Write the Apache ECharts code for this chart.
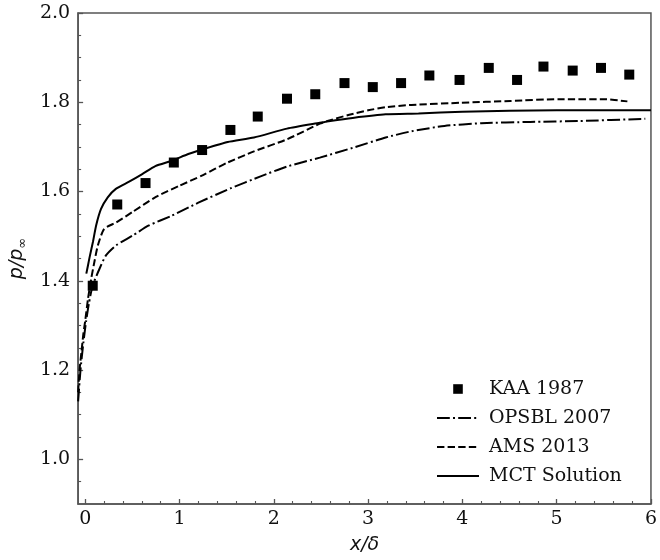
<!DOCTYPE html>
<html>
<head>
<meta charset="utf-8">
<script src="https://cdn.jsdelivr.net/npm/echarts@6/dist/echarts.min.js"></script>
<style>
html,body{margin:0;padding:0;background:#fff;}
#chart{width:660px;height:560px;}
</style>
</head>
<body>
<div id="chart"></div>
<script>
// ---- data ----
var kaaX = [0.08, 0.34, 0.64, 0.94, 1.24, 1.54, 1.83, 2.14, 2.44, 2.75, 3.05, 3.35, 3.65, 3.97, 4.28, 4.58, 4.86, 5.17, 5.47, 5.77];
var kaaY = [1.389, 1.571, 1.619, 1.665, 1.693, 1.738, 1.768, 1.808, 1.818, 1.843, 1.834, 1.843, 1.860, 1.850, 1.877, 1.850, 1.880, 1.871, 1.877, 1.862];

var opsX = [-0.075, -0.05, -0.02, 0.01, 0.04, 0.08, 0.152, 0.22, 0.325, 0.5, 0.675, 0.919, 1.2, 1.539, 1.86, 2.14, 2.488, 2.837, 3.186, 3.46, 3.81, 4.2, 4.72, 5.24, 5.94];
var opsY = [1.13, 1.20, 1.26, 1.31, 1.35, 1.39, 1.427, 1.457, 1.479, 1.501, 1.524, 1.546, 1.575, 1.607, 1.634, 1.656, 1.676, 1.698, 1.721, 1.735, 1.747, 1.753, 1.756, 1.758, 1.763];

var amsX = [-0.075, -0.06, -0.04, -0.02, 0.0, 0.03, 0.064, 0.1, 0.134, 0.2, 0.33, 0.5, 0.75, 1.0, 1.25, 1.5, 1.79, 2.14, 2.488, 2.6, 2.8, 3.0, 3.186, 3.46, 3.99, 4.51, 5.03, 5.49, 5.75];
var amsY = [1.15, 1.20, 1.24, 1.28, 1.31, 1.36, 1.405, 1.445, 1.479, 1.516, 1.531, 1.554, 1.588, 1.613, 1.637, 1.664, 1.690, 1.717, 1.752, 1.760, 1.772, 1.782, 1.789, 1.794, 1.799, 1.803, 1.807, 1.807, 1.802];

var mctX = [0.012, 0.03, 0.047, 0.082, 0.116, 0.168, 0.239, 0.325, 0.466, 0.605, 0.744, 0.919, 1.093, 1.267, 1.512, 1.79, 2.14, 2.488, 2.6, 2.837, 3.186, 3.535, 4.0, 4.5, 5.0, 5.5, 6.0];
var mctY = [1.416, 1.435, 1.453, 1.487, 1.524, 1.561, 1.587, 1.606, 1.622, 1.639, 1.657, 1.669, 1.684, 1.696, 1.711, 1.721, 1.741, 1.754, 1.758, 1.765, 1.773, 1.775, 1.779, 1.781, 1.782, 1.782, 1.782];

var xTicks = [0, 1, 2, 3, 4, 5, 6];
var xMinorTicks = [0.2, 0.4, 0.6, 0.8, 1.2, 1.4, 1.6, 1.8, 2.2, 2.4, 2.6, 2.8, 3.2, 3.4, 3.6, 3.8, 4.2, 4.4, 4.6, 4.8, 5.2, 5.4, 5.6, 5.8];
var yTicks = [1.0, 1.2, 1.4, 1.6, 1.8, 2.0];
var yMinorTicks = [0.95, 1.05, 1.1, 1.15, 1.25, 1.3, 1.35, 1.45, 1.5, 1.55, 1.65, 1.7, 1.75, 1.85, 1.9, 1.95];

var seriesNames = ['KAA 1987', 'OPSBL 2007', 'AMS 2013', 'MCT Solution'];

function zip(a, b) { return a.map(function (v, i) { return [v, b[i]]; }); }

var AX = '#555';
var serif = 'DejaVu Serif';

var chart = echarts.init(document.getElementById('chart'), null, {renderer: 'canvas'});
chart.setOption({
  animation: false,
  backgroundColor: '#fff',
  grid: {left: 75, top: 13, right: 5.5, bottom: 54, show: true, borderColor: AX, borderWidth: 1.5, backgroundColor: 'transparent'},
  legend: {
    orient: 'vertical', left: 431, top: 374,
    itemWidth: 42, itemHeight: 12, itemGap: 9,
    data: [
      {name: seriesNames[0]},
      {name: seriesNames[1], itemStyle: {opacity: 0}},
      {name: seriesNames[2], itemStyle: {opacity: 0}},
      {name: seriesNames[3], itemStyle: {opacity: 0}}
    ],
    textStyle: {fontFamily: serif, fontSize: 19, color: '#111', lineHeight: 20, padding: [0, 0, 0, 5]}
  },
  xAxis: [{
    type: 'value', min: -0.075, max: 6,
    axisLine: {show: true, onZero: false, lineStyle: {color: AX, width: 1.5}},
    axisTick: {show: true, inside: true, length: 5, customValues: xTicks, lineStyle: {color: AX, width: 1.3}},
    axisLabel: {customValues: xTicks, fontFamily: serif, fontSize: 19, color: '#111', margin: 6, formatter: function (v) { return String(Math.round(v)); }},
    splitLine: {show: false},
    name: 'x/δ', nameLocation: 'middle', nameGap: 32,
    nameTextStyle: {fontFamily: 'DejaVu Sans', fontStyle: 'italic', fontSize: 19, color: '#111'}
  }, {
    type: 'value', min: -0.075, max: 6, position: 'bottom', offset: 0,
    axisLine: {show: false, onZero: false},
    axisTick: {show: true, inside: true, length: 3, customValues: xMinorTicks, lineStyle: {color: AX, width: 1.1}},
    axisLabel: {show: false, customValues: xMinorTicks}, splitLine: {show: false}
  }],
  yAxis: [{
    type: 'value', min: 0.9, max: 2.0,
    axisLine: {show: true, onZero: false, lineStyle: {color: AX, width: 1.5}},
    axisTick: {show: true, inside: true, length: 5, customValues: yTicks, lineStyle: {color: AX, width: 1.3}},
    axisLabel: {customValues: yTicks, fontFamily: serif, fontSize: 19, color: '#111', margin: 8, formatter: function (v) { return v.toFixed(1); }},
    splitLine: {show: false},
    name: '{a|p/p}{b|∞}', nameLocation: 'middle', nameGap: 47, nameRotate: 90,
    nameTextStyle: {
      rich: {
        a: {fontFamily: 'DejaVu Sans', fontStyle: 'italic', fontSize: 19, color: '#111'},
        b: {fontFamily: 'DejaVu Sans', fontSize: 13, color: '#111', padding: [10, 0, 0, 0]}
      }
    }
  }, {
    type: 'value', min: 0.9, max: 2.0, position: 'left', offset: 0,
    axisLine: {show: false, onZero: false},
    axisTick: {show: true, inside: true, length: 3, customValues: yMinorTicks, lineStyle: {color: AX, width: 1.1}},
    axisLabel: {show: false, customValues: yMinorTicks}, splitLine: {show: false}
  }],
  series: [{
    name: seriesNames[0], type: 'line', data: zip(kaaX, kaaY),
    symbol: 'rect', symbolSize: 10, showSymbol: true,
    itemStyle: {color: '#000'}, lineStyle: {width: 0, opacity: 0, color: '#000'}
  }, {
    name: seriesNames[1], type: 'line', data: zip(opsX, opsY), symbol: 'none', smooth: 0.2,
    itemStyle: {color: '#000'}, lineStyle: {color: '#000', width: 2, type: [12.8, 3.2, 2, 3.2]}
  }, {
    name: seriesNames[2], type: 'line', data: zip(amsX, amsY), symbol: 'none', smooth: 0.2,
    itemStyle: {color: '#000'}, lineStyle: {color: '#000', width: 2, type: [7.4, 3.2]}
  }, {
    name: seriesNames[3], type: 'line', data: zip(mctX, mctY), symbol: 'none', smooth: 0.2,
    itemStyle: {color: '#000'}, lineStyle: {color: '#000', width: 2}
  }]
});
</script>
</body>
</html>
